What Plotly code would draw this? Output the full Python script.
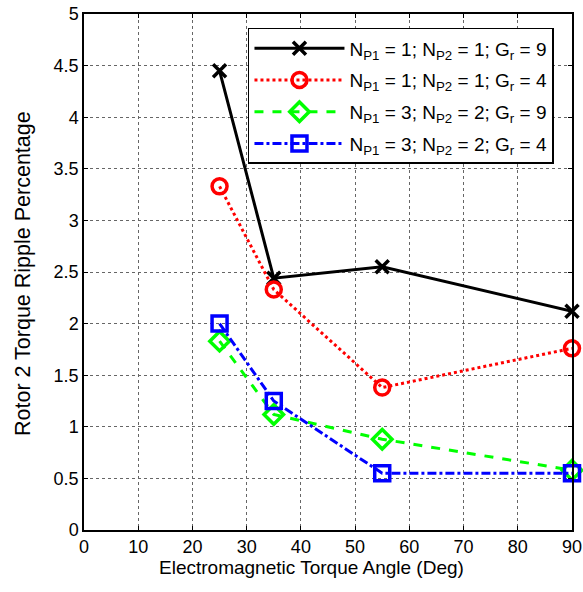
import plotly.graph_objects as go

angles = [25, 35, 55, 90]
black_vals = [4.45, 2.44, 2.55, 2.12]
red_vals = [3.33, 2.33, 1.38, 1.76]
green_vals = [1.83, 1.12, 0.88, 0.58]
blue_vals = [2.00, 1.25, 0.55, 0.55]

names = [
    "N<sub>P1</sub> = 1; N<sub>P2</sub> = 1; G<sub>r</sub> = 9",
    "N<sub>P1</sub> = 1; N<sub>P2</sub> = 1; G<sub>r</sub> = 4",
    "N<sub>P1</sub> = 3; N<sub>P2</sub> = 2; G<sub>r</sub> = 9",
    "N<sub>P1</sub> = 3; N<sub>P2</sub> = 2; G<sub>r</sub> = 4",
]
x_ticks = list(range(0, 91, 10))
y_ticks = [0, 0.5, 1, 1.5, 2, 2.5, 3, 3.5, 4, 4.5, 5]
y_labels = ["0", "0.5", "1", "1.5", "2", "2.5", "3", "3.5", "4", "4.5", "5"]
x_title = "Electromagnetic Torque Angle (Deg)"
y_title = "Rotor 2 Torque Ripple Percentage"

FONT = "Liberation Sans, Arial"

fig = go.Figure()
styles = [
    (black_vals, "#000000", "solid", "x-thin-open", 13),
    (red_vals, "#ff0000", "dot", "circle-open", 15),
    (green_vals, "#00ff00", "dash", "diamond-open", 15),
    (blue_vals, "#0000ff", "dashdot", "square-open", 15),
]
for i, ((vals, col, dash, sym, sz), nm) in enumerate(zip(styles, names)):
    fig.add_trace(go.Scatter(
        x=angles, y=vals, name=nm, mode="lines+markers", legendgroup=f"g{i}",
        line=dict(color=col, width=3, dash=dash),
        marker=dict(symbol=sym, size=sz, color=col, line=dict(color=col, width=3.5)),
        cliponaxis=False,
    ))

axis_common = dict(
    showline=True, linecolor="black", linewidth=1.5, mirror="ticks",
    ticks="inside", ticklen=4, tickcolor="black",
    showgrid=True, gridcolor="#666666", griddash="dot", gridwidth=1,
    zeroline=False,
    tickfont=dict(family=FONT, size=18, color="black"),
)
fig.update_xaxes(range=[0, 90], tickvals=x_ticks, ticktext=[str(v) for v in x_ticks],
                 **axis_common)
fig.update_yaxes(range=[0, 5], tickvals=y_ticks, ticktext=y_labels,
                 **axis_common)

fig.add_annotation(text=x_title, xref="paper", yref="paper",
                   x=(311 - 84) / 488, y=-(567 - 530) / 516,
                   xanchor="center", yanchor="middle", showarrow=False,
                   font=dict(family=FONT, size=19, color="black"))
fig.add_annotation(text=y_title, xref="paper", yref="paper",
                   x=-(84 - 23) / 488, y=(530 - 274) / 516, textangle=-90,
                   xanchor="center", yanchor="middle", showarrow=False,
                   font=dict(family=FONT, size=21.5, color="black"))

fig.update_layout(
    width=583, height=592,
    margin=dict(l=84, r=11, t=14, b=62, autoexpand=False),
    plot_bgcolor="white", paper_bgcolor="white",
    font=dict(family=FONT, size=18, color="black"),
    legend=dict(x=0.336, y=0.973, xanchor="left", yanchor="top",
                bgcolor="white", bordercolor="black", borderwidth=1.5,
                itemwidth=90, tracegroupgap=4,
                font=dict(family=FONT, size=19, color="black")),
)

fig.write_html("out.html", config={"displayModeBar": False},
               post_script="document.body.style.margin='0';")
